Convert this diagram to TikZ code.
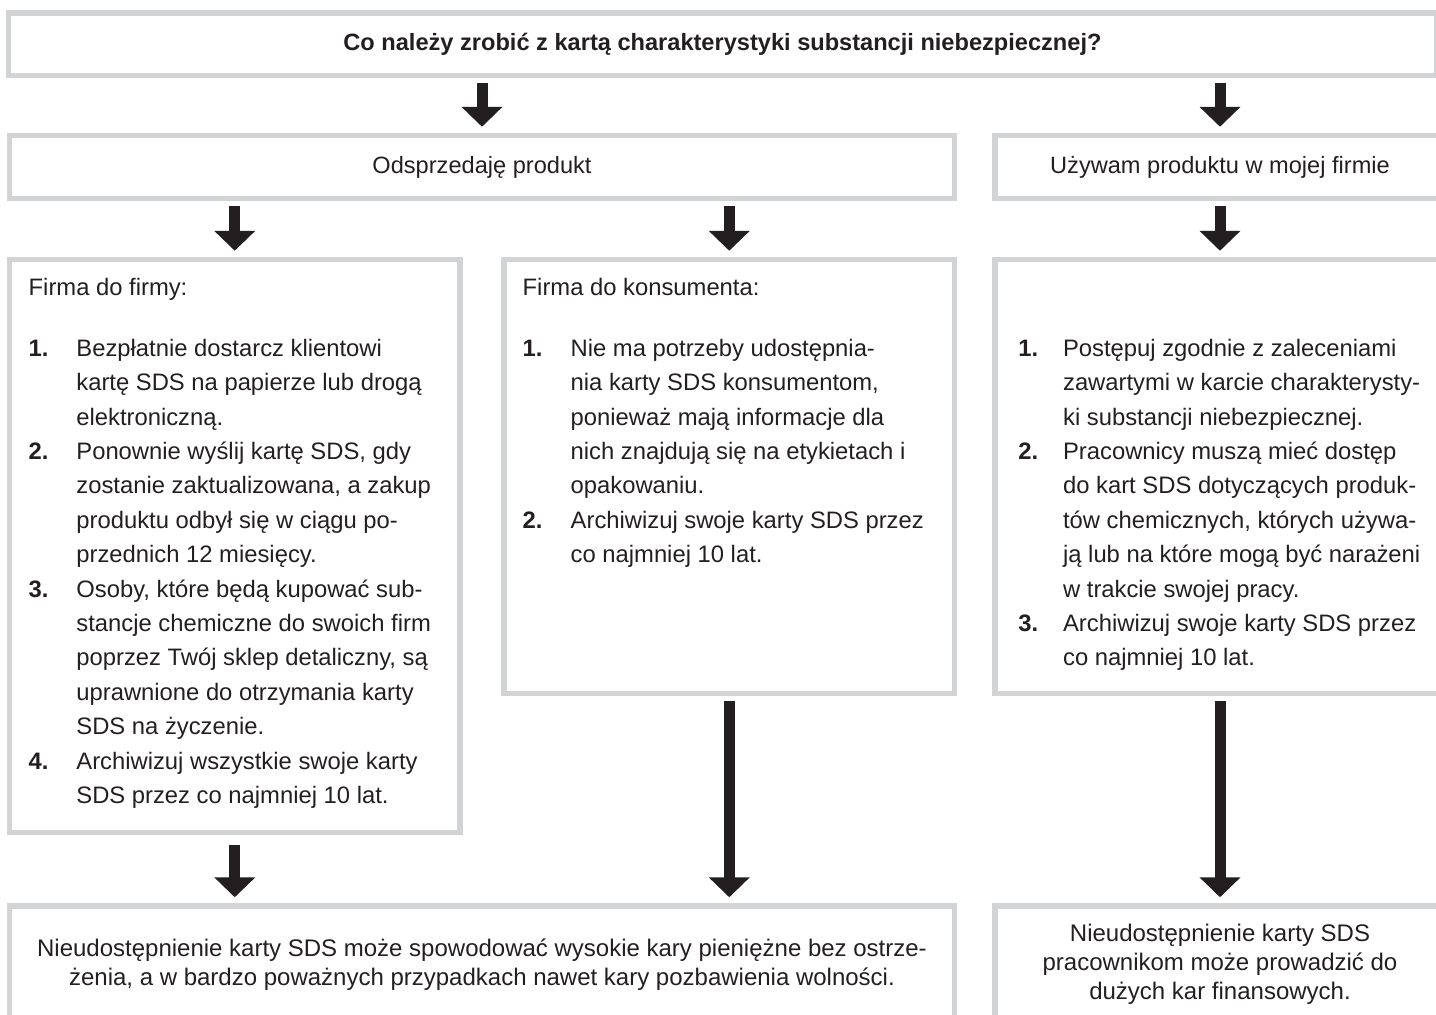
\documentclass[tikz,border=0pt]{standalone}
\usepackage{fontspec}
\setmainfont{Liberation Sans}
\usetikzlibrary{arrows.meta}
\definecolor{boxgrey}{HTML}{D1D3D4}
\definecolor{ink}{HTML}{231F20}
\begin{document}
\begin{tikzpicture}[x=0.5pt,y=-0.5pt,
        every node/.style={text=ink,font=\fontsize{11.9pt}{17.2pt}\selectfont},
        box/.style={draw=boxgrey,line width=2.75pt,inner sep=0pt,minimum height=31.5pt},
        flow/.style={ink,line width=5.5pt,-{Triangle[width=20pt,length=10pt]},shorten <=2.6pt,shorten >=3pt}]
    \useasboundingbox (0,0) rectangle (1436,1014);
    \clip (0,0) rectangle (1436,1014);
    % first two rows
    \node[box,minimum width=714.25pt,minimum height=31.25pt,font=\fontsize{11.8pt}{17.2pt}\selectfont\bfseries] (question) at (722.5,44.25) {Co należy zrobić z kartą charakterystyki substancji niebezpiecznej?};
    \node[box,minimum width=472.5pt,font=\fontsize{11.8pt}{17.2pt}\selectfont] (resell) at (482,167) {Odsprzedaję produkt};
    \node[box,minimum width=225pt,font=\fontsize{11.8pt}{17.2pt}\selectfont] (inuse) at (1220,167) {Używam produktu w mojej firmie};
    % list boxes
    \node[box,minimum width=225.25pt,minimum height=286.5pt] (b2b) at (234.75,546) {};
    \node[box,minimum width=225.25pt,minimum height=217pt] (b2c) at (729.25,476.5) {};
    \node[box,minimum width=225pt,minimum height=217pt] (rules) at (1220,476.5) {};
    \node[anchor=north west,inner sep=0pt] (b2b-txt) at (28.3,270.9) {\begin{tabular}{@{}p{23.85pt}@{}l@{}}
        \multicolumn{2}{@{}l@{}}{Firma do firmy:}\\[13.3pt]
        \textbf{1.} & Bezpłatnie dostarcz klientowi\\
         & kartę SDS na papierze lub drogą\\
         & elektroniczną.\\
        \textbf{2.} & Ponownie wyślij kartę SDS, gdy\\
         & zostanie zaktualizowana, a zakup\\
         & produktu odbył się w ciągu po-\\
         & przednich 12 miesięcy.\\
        \textbf{3.} & Osoby, które będą kupować sub-\\
         & stancje chemiczne do swoich firm\\
         & poprzez Twój sklep detaliczny, są\\
         & uprawnione do otrzymania karty\\
         & SDS na życzenie.\\
        \textbf{4.} & Archiwizuj wszystkie swoje karty\\
         & SDS przez co najmniej 10 lat.
    \end{tabular}};
    \node[anchor=north west,inner sep=0pt] (b2c-txt) at (522.3,270.9) {\begin{tabular}{@{}p{24pt}@{}l@{}}
        \multicolumn{2}{@{}l@{}}{Firma do konsumenta:}\\[13.3pt]
        \textbf{1.} & Nie ma potrzeby udostępnia-\\
         & nia karty SDS konsumentom,\\
         & ponieważ mają informacje dla\\
         & nich znajdują się na etykietach i\\
         & opakowaniu.\\
        \textbf{2.} & Archiwizuj swoje karty SDS przez\\
         & co najmniej 10 lat.
    \end{tabular}};
    \node[anchor=north west,inner sep=0pt] (rules-txt) at (1018,331.9) {\begin{tabular}{@{}p{22.35pt}@{}l@{}}
        \textbf{1.} & Postępuj zgodnie z zaleceniami\\
         & zawartymi w karcie charakterysty-\\
         & ki substancji niebezpiecznej.\\
        \textbf{2.} & Pracownicy muszą mieć dostęp\\
         & do kart SDS dotyczących produk-\\
         & tów chemicznych, których używa-\\
         & ją lub na które mogą być narażeni\\
         & w trakcie swojej pracy.\\
        \textbf{3.} & Archiwizuj swoje karty SDS przez\\
         & co najmniej 10 lat.
    \end{tabular}};
    % penalties
    \node[box,minimum width=472.5pt,minimum height=58.5pt,align=center,font=\fontsize{12pt}{14.5pt}\selectfont] (penalty) at (482,964.5) {Nieudostępnienie karty SDS może spowodować wysokie kary pieniężne bez ostrze-\\żenia, a w bardzo poważnych przypadkach nawet kary pozbawienia wolności.};
    \node[box,minimum width=225pt,minimum height=58.5pt,align=center,font=\fontsize{12pt}{14.5pt}\selectfont] (staffpen) at (1220,964.5) {Nieudostępnienie karty SDS\\pracownikom może prowadzić do\\dużych kar finansowych.};
    % arrows
    \draw[flow] (question.south -| resell) -- (resell.north);
    \draw[flow] (question.south -| inuse) -- (inuse.north);
    \draw[flow] (resell.south -| b2b) -- (b2b.north);
    \draw[flow] (resell.south -| b2c) -- (b2c.north);
    \draw[flow] (inuse.south) -- (rules.north);
    \draw[flow,shorten <=4.9pt] (b2b.south) -- (b2b.south |- penalty.north);
    \draw[flow] (b2c.south) -- (b2c.south |- penalty.north);
    \draw[flow] (rules.south) -- (staffpen.north);
\end{tikzpicture}
\end{document}
